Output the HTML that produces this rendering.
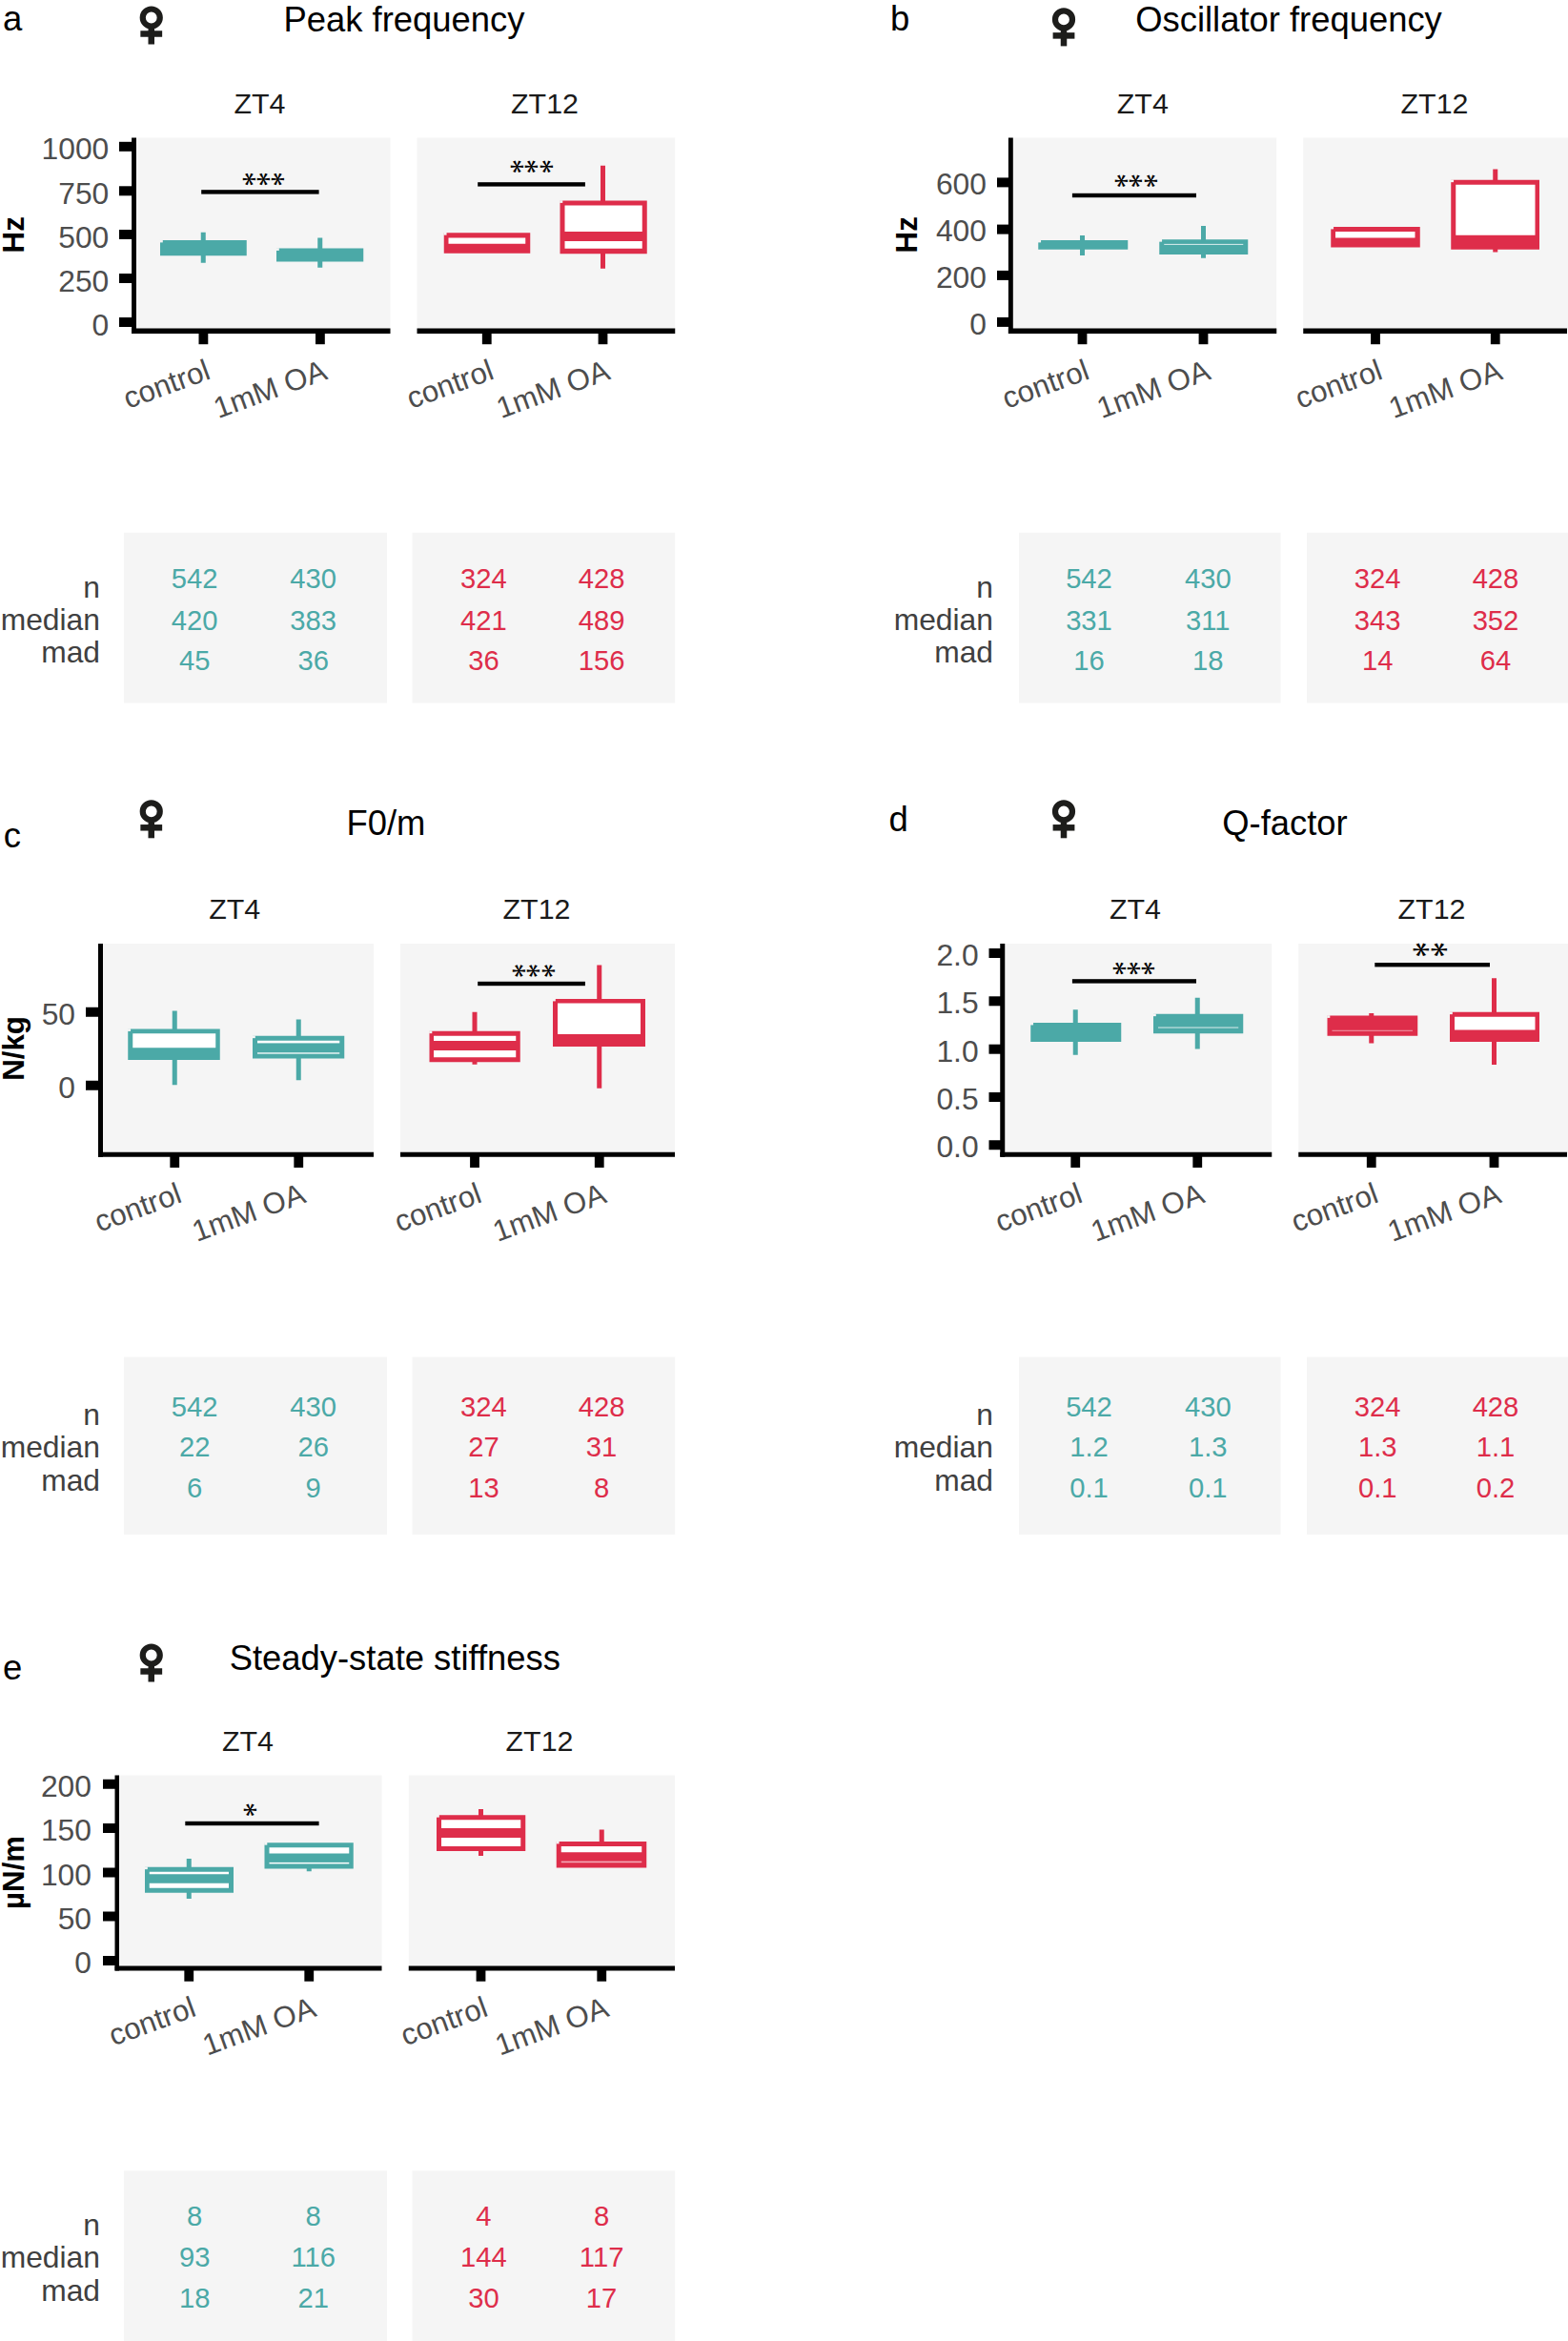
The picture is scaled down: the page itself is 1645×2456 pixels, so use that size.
<!DOCTYPE html>
<html lang="en">
<head>
<meta charset="utf-8">
<title>Figure</title>
<style>
html,body{margin:0;padding:0;background:#fff;}
body{width:1645px;height:2456px;overflow:hidden;}
svg{display:block;font-family:"Liberation Sans",Arial,sans-serif;}
</style>
</head>
<body>
<svg width="1645" height="2456" viewBox="0 0 1645 2456">
<rect width="1645" height="2456" fill="#fff"/>
<text x="3.00" y="31.50" font-size="36.5" fill="#000">a</text>
<circle cx="158.75" cy="18.50" r="9" fill="none" stroke="#1D1D1B" stroke-width="6.2"/>
<rect x="155.50" y="29.50" width="6.50" height="17.00" fill="#1D1D1B"/>
<rect x="147.35" y="32.25" width="22.80" height="6.50" fill="#1D1D1B"/>
<text x="424.00" y="33.30" font-size="36.4" fill="#000" text-anchor="middle">Peak frequency</text>
<rect x="143.00" y="144.50" width="266.50" height="201.00" fill="#F5F5F5"/>
<rect x="437.50" y="144.50" width="270.75" height="201.00" fill="#F5F5F5"/>
<text x="272.50" y="118.70" font-size="30.4" fill="#1A1A1A" text-anchor="middle">ZT4</text>
<text x="571.50" y="118.70" font-size="30.4" fill="#1A1A1A" text-anchor="middle">ZT12</text>
<rect x="138.10" y="144.50" width="4.90" height="205.50" fill="#000"/>
<rect x="138.10" y="344.50" width="271.40" height="5.50" fill="#000"/>
<rect x="437.50" y="344.50" width="270.75" height="5.50" fill="#000"/>
<rect x="125.00" y="148.80" width="14.10" height="10.00" fill="#000"/>
<text x="114.30" y="167.30" font-size="31.8" fill="#4D4D4D" text-anchor="end">1000</text>
<rect x="125.00" y="195.30" width="14.10" height="10.00" fill="#000"/>
<text x="114.30" y="213.80" font-size="31.8" fill="#4D4D4D" text-anchor="end">750</text>
<rect x="125.00" y="241.00" width="14.10" height="10.00" fill="#000"/>
<text x="114.30" y="259.50" font-size="31.8" fill="#4D4D4D" text-anchor="end">500</text>
<rect x="125.00" y="287.00" width="14.10" height="10.00" fill="#000"/>
<text x="114.30" y="305.50" font-size="31.8" fill="#4D4D4D" text-anchor="end">250</text>
<rect x="125.00" y="333.00" width="14.10" height="10.00" fill="#000"/>
<text x="114.30" y="351.50" font-size="31.8" fill="#4D4D4D" text-anchor="end">0</text>
<text transform="translate(25.00 246.30) rotate(-90)" font-size="31.25" fill="#000" text-anchor="middle" font-weight="bold">Hz</text>
<rect x="208.50" y="349.00" width="9.80" height="12.20" fill="#000"/>
<text transform="translate(222.40 397.00) rotate(-20)" font-size="31.25" fill="#4D4D4D" text-anchor="end">control</text>
<rect x="331.00" y="349.00" width="9.80" height="12.20" fill="#000"/>
<text transform="translate(344.90 397.00) rotate(-20)" font-size="31.25" fill="#4D4D4D" text-anchor="end">1mM OA</text>
<rect x="505.85" y="349.00" width="9.80" height="12.20" fill="#000"/>
<text transform="translate(519.75 397.00) rotate(-20)" font-size="31.25" fill="#4D4D4D" text-anchor="end">control</text>
<rect x="627.60" y="349.00" width="9.80" height="12.20" fill="#000"/>
<text transform="translate(641.50 397.00) rotate(-20)" font-size="31.25" fill="#4D4D4D" text-anchor="end">1mM OA</text>
<rect x="210.75" y="243.75" width="5.00" height="32.00" fill="#4BA9A7"/>
<rect x="168.00" y="252.00" width="90.75" height="16.25" fill="#4BA9A7"/>
<rect x="167.70" y="251.70" width="3.10" height="2.70" fill="#F5F5F5"/>
<rect x="333.25" y="249.50" width="5.00" height="31.25" fill="#4BA9A7"/>
<rect x="290.00" y="260.50" width="91.25" height="14.00" fill="#4BA9A7"/>
<rect x="289.70" y="260.20" width="3.10" height="2.70" fill="#F5F5F5"/>
<rect x="508.50" y="250.00" width="5.00" height="10.00" fill="#DE2D4A"/>
<rect x="465.75" y="244.25" width="90.50" height="21.50" fill="#DE2D4A"/>
<rect x="465.45" y="243.95" width="3.10" height="2.70" fill="#F5F5F5"/>
<rect x="470.50" y="249.50" width="80.75" height="6.25" fill="#FFFFFF"/>
<rect x="630.00" y="173.75" width="5.00" height="108.00" fill="#DE2D4A"/>
<rect x="587.50" y="210.50" width="91.25" height="55.75" fill="#DE2D4A"/>
<rect x="587.20" y="210.20" width="3.10" height="2.70" fill="#F5F5F5"/>
<rect x="592.50" y="215.50" width="81.25" height="27.50" fill="#FFFFFF"/>
<rect x="592.50" y="253.00" width="81.25" height="7.75" fill="#FFFFFF"/>
<rect x="211.20" y="199.20" width="123.40" height="4.40" fill="#000"/>
<g transform="translate(276.00 188.00) scale(0.9 0.775)"><text x="-35.97 -18.86 -1.74" y="-10.02" rotate="90" font-family="Liberation Serif, serif" font-size="40" fill="#000">***</text></g>
<rect x="501.20" y="191.20" width="112.70" height="4.40" fill="#000"/>
<g transform="translate(557.20 174.80) scale(0.9 0.775)"><text x="-35.97 -18.74 -1.86" y="-10.02" rotate="90" font-family="Liberation Serif, serif" font-size="40" fill="#000">***</text></g>
<rect x="130.00" y="558.75" width="276.00" height="178.75" fill="#F5F5F5"/>
<rect x="432.50" y="558.75" width="275.75" height="178.75" fill="#F5F5F5"/>
<text x="105.00" y="626.75" font-size="31.8" fill="#404040" text-anchor="end">n</text>
<text x="105.00" y="661.25" font-size="31.8" fill="#404040" text-anchor="end">median</text>
<text x="105.00" y="695.00" font-size="31.8" fill="#404040" text-anchor="end">mad</text>
<text x="204.20" y="617.00" font-size="29.2" fill="#4BA9A7" text-anchor="middle">542</text>
<text x="204.20" y="660.75" font-size="29.2" fill="#4BA9A7" text-anchor="middle">420</text>
<text x="204.20" y="703.00" font-size="29.2" fill="#4BA9A7" text-anchor="middle">45</text>
<text x="328.70" y="617.00" font-size="29.2" fill="#4BA9A7" text-anchor="middle">430</text>
<text x="328.70" y="660.75" font-size="29.2" fill="#4BA9A7" text-anchor="middle">383</text>
<text x="328.70" y="703.00" font-size="29.2" fill="#4BA9A7" text-anchor="middle">36</text>
<text x="507.40" y="617.00" font-size="29.2" fill="#DE2D4A" text-anchor="middle">324</text>
<text x="507.40" y="660.75" font-size="29.2" fill="#DE2D4A" text-anchor="middle">421</text>
<text x="507.40" y="703.00" font-size="29.2" fill="#DE2D4A" text-anchor="middle">36</text>
<text x="631.10" y="617.00" font-size="29.2" fill="#DE2D4A" text-anchor="middle">428</text>
<text x="631.10" y="660.75" font-size="29.2" fill="#DE2D4A" text-anchor="middle">489</text>
<text x="631.10" y="703.00" font-size="29.2" fill="#DE2D4A" text-anchor="middle">156</text>
<text x="934.00" y="31.50" font-size="36.5" fill="#000">b</text>
<circle cx="1116.00" cy="20.40" r="9" fill="none" stroke="#1D1D1B" stroke-width="6.2"/>
<rect x="1112.75" y="31.40" width="6.50" height="17.00" fill="#1D1D1B"/>
<rect x="1104.60" y="34.15" width="22.80" height="6.50" fill="#1D1D1B"/>
<text x="1352.00" y="33.30" font-size="36.4" fill="#000" text-anchor="middle">Oscillator frequency</text>
<rect x="1063.00" y="144.50" width="276.25" height="201.00" fill="#F5F5F5"/>
<rect x="1367.25" y="144.50" width="277.75" height="201.00" fill="#F5F5F5"/>
<text x="1198.80" y="118.70" font-size="30.4" fill="#1A1A1A" text-anchor="middle">ZT4</text>
<text x="1505.00" y="118.70" font-size="30.4" fill="#1A1A1A" text-anchor="middle">ZT12</text>
<rect x="1057.90" y="144.50" width="4.90" height="205.50" fill="#000"/>
<rect x="1057.90" y="344.50" width="281.35" height="5.50" fill="#000"/>
<rect x="1367.25" y="344.50" width="276.75" height="5.50" fill="#000"/>
<rect x="1046.00" y="186.40" width="12.90" height="10.00" fill="#000"/>
<text x="1035.00" y="204.10" font-size="31.8" fill="#4D4D4D" text-anchor="end">600</text>
<rect x="1046.00" y="235.60" width="12.90" height="10.00" fill="#000"/>
<text x="1035.00" y="253.30" font-size="31.8" fill="#4D4D4D" text-anchor="end">400</text>
<rect x="1046.00" y="283.90" width="12.90" height="10.00" fill="#000"/>
<text x="1035.00" y="301.60" font-size="31.8" fill="#4D4D4D" text-anchor="end">200</text>
<rect x="1046.00" y="332.90" width="12.90" height="10.00" fill="#000"/>
<text x="1035.00" y="350.60" font-size="31.8" fill="#4D4D4D" text-anchor="end">0</text>
<text transform="translate(962.00 246.30) rotate(-90)" font-size="31.25" fill="#000" text-anchor="middle" font-weight="bold">Hz</text>
<rect x="1130.60" y="349.00" width="9.80" height="12.20" fill="#000"/>
<text transform="translate(1144.50 397.00) rotate(-20)" font-size="31.25" fill="#4D4D4D" text-anchor="end">control</text>
<rect x="1257.60" y="349.00" width="9.80" height="12.20" fill="#000"/>
<text transform="translate(1271.50 397.00) rotate(-20)" font-size="31.25" fill="#4D4D4D" text-anchor="end">1mM OA</text>
<rect x="1438.10" y="349.00" width="9.80" height="12.20" fill="#000"/>
<text transform="translate(1452.00 397.00) rotate(-20)" font-size="31.25" fill="#4D4D4D" text-anchor="end">control</text>
<rect x="1563.85" y="349.00" width="9.80" height="12.20" fill="#000"/>
<text transform="translate(1577.75 397.00) rotate(-20)" font-size="31.25" fill="#4D4D4D" text-anchor="end">1mM OA</text>
<rect x="1133.00" y="247.00" width="5.00" height="21.00" fill="#4BA9A7"/>
<rect x="1089.25" y="252.00" width="94.00" height="9.75" fill="#4BA9A7"/>
<rect x="1088.95" y="251.70" width="3.10" height="2.70" fill="#F5F5F5"/>
<rect x="1260.00" y="237.00" width="5.00" height="33.75" fill="#4BA9A7"/>
<rect x="1216.25" y="251.25" width="93.00" height="15.75" fill="#4BA9A7"/>
<rect x="1215.95" y="250.95" width="3.10" height="2.70" fill="#F5F5F5"/>
<rect x="1221.25" y="255.90" width="83.00" height="0.90" fill="#EAF5F5"/>
<rect x="1440.50" y="245.00" width="5.00" height="10.00" fill="#DE2D4A"/>
<rect x="1396.25" y="238.00" width="93.50" height="21.50" fill="#DE2D4A"/>
<rect x="1395.95" y="237.70" width="3.10" height="2.70" fill="#F5F5F5"/>
<rect x="1401.00" y="243.00" width="83.50" height="6.50" fill="#FFFFFF"/>
<rect x="1566.25" y="177.50" width="5.00" height="87.00" fill="#DE2D4A"/>
<rect x="1522.25" y="188.75" width="92.75" height="73.00" fill="#DE2D4A"/>
<rect x="1521.95" y="188.45" width="3.10" height="2.70" fill="#F5F5F5"/>
<rect x="1527.25" y="193.75" width="83.25" height="53.00" fill="#FFFFFF"/>
<rect x="1124.90" y="202.80" width="130.10" height="4.40" fill="#000"/>
<g transform="translate(1191.20 189.80) scale(0.9 0.775)"><text x="-35.97 -18.74 -1.86" y="-10.02" rotate="90" font-family="Liberation Serif, serif" font-size="40" fill="#000">***</text></g>
<rect x="1069.00" y="558.75" width="274.50" height="178.75" fill="#F5F5F5"/>
<rect x="1371.00" y="558.75" width="274.00" height="178.75" fill="#F5F5F5"/>
<text x="1042.00" y="626.75" font-size="31.8" fill="#404040" text-anchor="end">n</text>
<text x="1042.00" y="661.25" font-size="31.8" fill="#404040" text-anchor="end">median</text>
<text x="1042.00" y="695.00" font-size="31.8" fill="#404040" text-anchor="end">mad</text>
<text x="1142.50" y="617.00" font-size="29.2" fill="#4BA9A7" text-anchor="middle">542</text>
<text x="1142.50" y="660.75" font-size="29.2" fill="#4BA9A7" text-anchor="middle">331</text>
<text x="1142.50" y="703.00" font-size="29.2" fill="#4BA9A7" text-anchor="middle">16</text>
<text x="1267.30" y="617.00" font-size="29.2" fill="#4BA9A7" text-anchor="middle">430</text>
<text x="1267.30" y="660.75" font-size="29.2" fill="#4BA9A7" text-anchor="middle">311</text>
<text x="1267.30" y="703.00" font-size="29.2" fill="#4BA9A7" text-anchor="middle">18</text>
<text x="1445.20" y="617.00" font-size="29.2" fill="#DE2D4A" text-anchor="middle">324</text>
<text x="1445.20" y="660.75" font-size="29.2" fill="#DE2D4A" text-anchor="middle">343</text>
<text x="1445.20" y="703.00" font-size="29.2" fill="#DE2D4A" text-anchor="middle">14</text>
<text x="1569.00" y="617.00" font-size="29.2" fill="#DE2D4A" text-anchor="middle">428</text>
<text x="1569.00" y="660.75" font-size="29.2" fill="#DE2D4A" text-anchor="middle">352</text>
<text x="1569.00" y="703.00" font-size="29.2" fill="#DE2D4A" text-anchor="middle">64</text>
<text x="3.70" y="889.00" font-size="36.5" fill="#000">c</text>
<circle cx="158.75" cy="851.30" r="9" fill="none" stroke="#1D1D1B" stroke-width="6.2"/>
<rect x="155.50" y="862.30" width="6.50" height="17.00" fill="#1D1D1B"/>
<rect x="147.35" y="865.05" width="22.80" height="6.50" fill="#1D1D1B"/>
<text x="405.00" y="876.40" font-size="36.4" fill="#000" text-anchor="middle">F0/m</text>
<rect x="108.00" y="990.00" width="284.00" height="219.75" fill="#F5F5F5"/>
<rect x="420.00" y="990.00" width="288.00" height="219.75" fill="#F5F5F5"/>
<text x="246.25" y="964.30" font-size="30.4" fill="#1A1A1A" text-anchor="middle">ZT4</text>
<text x="563.00" y="964.30" font-size="30.4" fill="#1A1A1A" text-anchor="middle">ZT12</text>
<rect x="103.00" y="990.00" width="5.00" height="223.75" fill="#000"/>
<rect x="103.00" y="1208.75" width="289.00" height="5.00" fill="#000"/>
<rect x="420.00" y="1208.75" width="288.00" height="5.00" fill="#000"/>
<rect x="90.00" y="1056.75" width="14.00" height="10.00" fill="#000"/>
<text x="79.00" y="1074.65" font-size="31.8" fill="#4D4D4D" text-anchor="end">50</text>
<rect x="90.00" y="1133.75" width="14.00" height="10.00" fill="#000"/>
<text x="79.00" y="1151.65" font-size="31.8" fill="#4D4D4D" text-anchor="end">0</text>
<text transform="translate(25.00 1100.00) rotate(-90)" font-size="31.25" fill="#000" text-anchor="middle" font-weight="bold">N/kg</text>
<rect x="178.35" y="1212.75" width="9.80" height="12.20" fill="#000"/>
<text transform="translate(192.25 1260.75) rotate(-20)" font-size="31.25" fill="#4D4D4D" text-anchor="end">control</text>
<rect x="308.35" y="1212.75" width="9.80" height="12.20" fill="#000"/>
<text transform="translate(322.25 1260.75) rotate(-20)" font-size="31.25" fill="#4D4D4D" text-anchor="end">1mM OA</text>
<rect x="493.10" y="1212.75" width="9.80" height="12.20" fill="#000"/>
<text transform="translate(507.00 1260.75) rotate(-20)" font-size="31.25" fill="#4D4D4D" text-anchor="end">control</text>
<rect x="623.85" y="1212.75" width="9.80" height="12.20" fill="#000"/>
<text transform="translate(637.75 1260.75) rotate(-20)" font-size="31.25" fill="#4D4D4D" text-anchor="end">1mM OA</text>
<rect x="180.75" y="1060.50" width="5.00" height="77.75" fill="#4BA9A7"/>
<rect x="134.25" y="1079.50" width="96.50" height="32.50" fill="#4BA9A7"/>
<rect x="133.95" y="1079.20" width="3.10" height="2.70" fill="#F5F5F5"/>
<rect x="139.25" y="1084.25" width="87.00" height="15.00" fill="#FFFFFF"/>
<rect x="310.75" y="1069.50" width="5.00" height="63.75" fill="#4BA9A7"/>
<rect x="265.00" y="1086.75" width="96.25" height="23.75" fill="#4BA9A7"/>
<rect x="264.70" y="1086.45" width="3.10" height="2.70" fill="#F5F5F5"/>
<rect x="270.00" y="1091.75" width="86.25" height="2.65" fill="#FFFFFF"/>
<rect x="270.00" y="1104.30" width="86.25" height="1.30" fill="#FFFFFF"/>
<rect x="495.50" y="1061.75" width="5.00" height="55.00" fill="#DE2D4A"/>
<rect x="450.50" y="1081.75" width="95.25" height="32.50" fill="#DE2D4A"/>
<rect x="450.20" y="1081.45" width="3.10" height="2.70" fill="#F5F5F5"/>
<rect x="455.00" y="1086.75" width="86.25" height="5.25" fill="#FFFFFF"/>
<rect x="455.00" y="1102.00" width="86.25" height="7.25" fill="#FFFFFF"/>
<rect x="626.25" y="1012.50" width="5.00" height="129.25" fill="#DE2D4A"/>
<rect x="580.00" y="1048.00" width="97.00" height="50.00" fill="#DE2D4A"/>
<rect x="579.70" y="1047.70" width="3.10" height="2.70" fill="#F5F5F5"/>
<rect x="585.00" y="1052.50" width="87.00" height="32.50" fill="#FFFFFF"/>
<rect x="501.20" y="1029.80" width="112.70" height="4.40" fill="#000"/>
<g transform="translate(559.33 1018.60) scale(0.9 0.775)"><text x="-36.00 -18.78 -1.78" y="-10.02" rotate="90" font-family="Liberation Serif, serif" font-size="40" fill="#000">***</text></g>
<rect x="130.00" y="1423.60" width="276.00" height="186.40" fill="#F5F5F5"/>
<rect x="432.50" y="1423.60" width="275.75" height="186.40" fill="#F5F5F5"/>
<text x="105.00" y="1495.30" font-size="31.8" fill="#404040" text-anchor="end">n</text>
<text x="105.00" y="1529.20" font-size="31.8" fill="#404040" text-anchor="end">median</text>
<text x="105.00" y="1564.10" font-size="31.8" fill="#404040" text-anchor="end">mad</text>
<text x="204.20" y="1485.60" font-size="29.2" fill="#4BA9A7" text-anchor="middle">542</text>
<text x="204.20" y="1528.30" font-size="29.2" fill="#4BA9A7" text-anchor="middle">22</text>
<text x="204.20" y="1571.00" font-size="29.2" fill="#4BA9A7" text-anchor="middle">6</text>
<text x="328.70" y="1485.60" font-size="29.2" fill="#4BA9A7" text-anchor="middle">430</text>
<text x="328.70" y="1528.30" font-size="29.2" fill="#4BA9A7" text-anchor="middle">26</text>
<text x="328.70" y="1571.00" font-size="29.2" fill="#4BA9A7" text-anchor="middle">9</text>
<text x="507.40" y="1485.60" font-size="29.2" fill="#DE2D4A" text-anchor="middle">324</text>
<text x="507.40" y="1528.30" font-size="29.2" fill="#DE2D4A" text-anchor="middle">27</text>
<text x="507.40" y="1571.00" font-size="29.2" fill="#DE2D4A" text-anchor="middle">13</text>
<text x="631.10" y="1485.60" font-size="29.2" fill="#DE2D4A" text-anchor="middle">428</text>
<text x="631.10" y="1528.30" font-size="29.2" fill="#DE2D4A" text-anchor="middle">31</text>
<text x="631.10" y="1571.00" font-size="29.2" fill="#DE2D4A" text-anchor="middle">8</text>
<text x="932.50" y="871.50" font-size="36.5" fill="#000">d</text>
<circle cx="1116.00" cy="851.30" r="9" fill="none" stroke="#1D1D1B" stroke-width="6.2"/>
<rect x="1112.75" y="862.30" width="6.50" height="17.00" fill="#1D1D1B"/>
<rect x="1104.60" y="865.05" width="22.80" height="6.50" fill="#1D1D1B"/>
<text x="1348.00" y="876.40" font-size="36.4" fill="#000" text-anchor="middle">Q-factor</text>
<rect x="1054.25" y="990.00" width="280.00" height="219.75" fill="#F5F5F5"/>
<rect x="1362.25" y="990.00" width="282.75" height="219.75" fill="#F5F5F5"/>
<text x="1191.00" y="964.30" font-size="30.4" fill="#1A1A1A" text-anchor="middle">ZT4</text>
<text x="1502.00" y="964.30" font-size="30.4" fill="#1A1A1A" text-anchor="middle">ZT12</text>
<rect x="1049.25" y="990.00" width="5.00" height="223.75" fill="#000"/>
<rect x="1049.25" y="1208.75" width="285.00" height="5.00" fill="#000"/>
<rect x="1362.25" y="1208.75" width="281.75" height="5.00" fill="#000"/>
<rect x="1037.50" y="995.00" width="12.75" height="10.00" fill="#000"/>
<text x="1026.60" y="1012.90" font-size="31.8" fill="#4D4D4D" text-anchor="end">2.0</text>
<rect x="1037.50" y="1045.30" width="12.75" height="10.00" fill="#000"/>
<text x="1026.60" y="1063.20" font-size="31.8" fill="#4D4D4D" text-anchor="end">1.5</text>
<rect x="1037.50" y="1095.70" width="12.75" height="10.00" fill="#000"/>
<text x="1026.60" y="1113.60" font-size="31.8" fill="#4D4D4D" text-anchor="end">1.0</text>
<rect x="1037.50" y="1146.00" width="12.75" height="10.00" fill="#000"/>
<text x="1026.60" y="1163.90" font-size="31.8" fill="#4D4D4D" text-anchor="end">0.5</text>
<rect x="1037.50" y="1196.25" width="12.75" height="10.00" fill="#000"/>
<text x="1026.60" y="1214.15" font-size="31.8" fill="#4D4D4D" text-anchor="end">0.0</text>
<rect x="1123.35" y="1212.75" width="9.80" height="12.20" fill="#000"/>
<text transform="translate(1137.25 1260.75) rotate(-20)" font-size="31.25" fill="#4D4D4D" text-anchor="end">control</text>
<rect x="1251.35" y="1212.75" width="9.80" height="12.20" fill="#000"/>
<text transform="translate(1265.25 1260.75) rotate(-20)" font-size="31.25" fill="#4D4D4D" text-anchor="end">1mM OA</text>
<rect x="1433.85" y="1212.75" width="9.80" height="12.20" fill="#000"/>
<text transform="translate(1447.75 1260.75) rotate(-20)" font-size="31.25" fill="#4D4D4D" text-anchor="end">control</text>
<rect x="1562.60" y="1212.75" width="9.80" height="12.20" fill="#000"/>
<text transform="translate(1576.50 1260.75) rotate(-20)" font-size="31.25" fill="#4D4D4D" text-anchor="end">1mM OA</text>
<rect x="1125.75" y="1059.25" width="5.00" height="47.50" fill="#4BA9A7"/>
<rect x="1081.25" y="1073.00" width="95.00" height="20.00" fill="#4BA9A7"/>
<rect x="1080.95" y="1072.70" width="3.10" height="2.70" fill="#F5F5F5"/>
<rect x="1253.75" y="1046.75" width="5.00" height="53.75" fill="#4BA9A7"/>
<rect x="1210.00" y="1063.75" width="94.25" height="20.50" fill="#4BA9A7"/>
<rect x="1209.70" y="1063.45" width="3.10" height="2.70" fill="#F5F5F5"/>
<rect x="1215.00" y="1077.60" width="84.25" height="0.90" fill="#EAF5F5"/>
<rect x="1436.25" y="1063.00" width="5.00" height="31.50" fill="#DE2D4A"/>
<rect x="1392.50" y="1065.50" width="94.75" height="21.25" fill="#DE2D4A"/>
<rect x="1392.20" y="1065.20" width="3.10" height="2.70" fill="#F5F5F5"/>
<rect x="1397.50" y="1080.80" width="84.50" height="0.90" fill="#F4A9B6"/>
<rect x="1565.00" y="1026.25" width="5.00" height="90.75" fill="#DE2D4A"/>
<rect x="1521.00" y="1061.75" width="94.00" height="31.25" fill="#DE2D4A"/>
<rect x="1520.70" y="1061.45" width="3.10" height="2.70" fill="#F5F5F5"/>
<rect x="1526.00" y="1066.75" width="84.50" height="13.75" fill="#FFFFFF"/>
<rect x="1124.90" y="1027.20" width="130.10" height="4.40" fill="#000"/>
<g transform="translate(1188.77 1016.10) scale(0.9 0.775)"><text x="-35.71 -18.82 -2.04" y="-10.02" rotate="90" font-family="Liberation Serif, serif" font-size="40" fill="#000">***</text></g>
<rect x="1442.30" y="1010.00" width="120.70" height="4.40" fill="#000"/>
<g transform="translate(1500.40 996.30) scale(1.09 0.83)"><text x="-27.57 -10.14" y="-10.02" rotate="90" font-family="Liberation Serif, serif" font-size="40" fill="#000">**</text></g>
<rect x="1069.00" y="1423.60" width="274.50" height="186.40" fill="#F5F5F5"/>
<rect x="1371.00" y="1423.60" width="274.00" height="186.40" fill="#F5F5F5"/>
<text x="1042.00" y="1495.30" font-size="31.8" fill="#404040" text-anchor="end">n</text>
<text x="1042.00" y="1529.20" font-size="31.8" fill="#404040" text-anchor="end">median</text>
<text x="1042.00" y="1564.10" font-size="31.8" fill="#404040" text-anchor="end">mad</text>
<text x="1142.50" y="1485.60" font-size="29.2" fill="#4BA9A7" text-anchor="middle">542</text>
<text x="1142.50" y="1528.30" font-size="29.2" fill="#4BA9A7" text-anchor="middle">1.2</text>
<text x="1142.50" y="1571.00" font-size="29.2" fill="#4BA9A7" text-anchor="middle">0.1</text>
<text x="1267.30" y="1485.60" font-size="29.2" fill="#4BA9A7" text-anchor="middle">430</text>
<text x="1267.30" y="1528.30" font-size="29.2" fill="#4BA9A7" text-anchor="middle">1.3</text>
<text x="1267.30" y="1571.00" font-size="29.2" fill="#4BA9A7" text-anchor="middle">0.1</text>
<text x="1445.20" y="1485.60" font-size="29.2" fill="#DE2D4A" text-anchor="middle">324</text>
<text x="1445.20" y="1528.30" font-size="29.2" fill="#DE2D4A" text-anchor="middle">1.3</text>
<text x="1445.20" y="1571.00" font-size="29.2" fill="#DE2D4A" text-anchor="middle">0.1</text>
<text x="1569.00" y="1485.60" font-size="29.2" fill="#DE2D4A" text-anchor="middle">428</text>
<text x="1569.00" y="1528.30" font-size="29.2" fill="#DE2D4A" text-anchor="middle">1.1</text>
<text x="1569.00" y="1571.00" font-size="29.2" fill="#DE2D4A" text-anchor="middle">0.2</text>
<text x="3.00" y="1761.75" font-size="36.5" fill="#000">e</text>
<circle cx="158.75" cy="1736.50" r="9" fill="none" stroke="#1D1D1B" stroke-width="6.2"/>
<rect x="155.50" y="1747.50" width="6.50" height="17.00" fill="#1D1D1B"/>
<rect x="147.35" y="1750.25" width="22.80" height="6.50" fill="#1D1D1B"/>
<text x="414.30" y="1752.25" font-size="36.4" fill="#000" text-anchor="middle">Steady-state stiffness</text>
<rect x="125.00" y="1862.50" width="275.50" height="201.00" fill="#F5F5F5"/>
<rect x="428.75" y="1862.50" width="279.25" height="201.00" fill="#F5F5F5"/>
<text x="260.00" y="1836.60" font-size="30.4" fill="#1A1A1A" text-anchor="middle">ZT4</text>
<text x="566.00" y="1836.60" font-size="30.4" fill="#1A1A1A" text-anchor="middle">ZT12</text>
<rect x="120.50" y="1862.50" width="4.50" height="205.00" fill="#000"/>
<rect x="120.50" y="2062.50" width="280.00" height="5.00" fill="#000"/>
<rect x="428.75" y="2062.50" width="279.25" height="5.00" fill="#000"/>
<rect x="108.00" y="1866.75" width="13.50" height="10.00" fill="#000"/>
<text x="96.00" y="1885.05" font-size="31.8" fill="#4D4D4D" text-anchor="end">200</text>
<rect x="108.00" y="1913.00" width="13.50" height="10.00" fill="#000"/>
<text x="96.00" y="1931.30" font-size="31.8" fill="#4D4D4D" text-anchor="end">150</text>
<rect x="108.00" y="1959.50" width="13.50" height="10.00" fill="#000"/>
<text x="96.00" y="1977.80" font-size="31.8" fill="#4D4D4D" text-anchor="end">100</text>
<rect x="108.00" y="2005.50" width="13.50" height="10.00" fill="#000"/>
<text x="96.00" y="2023.80" font-size="31.8" fill="#4D4D4D" text-anchor="end">50</text>
<rect x="108.00" y="2052.00" width="13.50" height="10.00" fill="#000"/>
<text x="96.00" y="2070.30" font-size="31.8" fill="#4D4D4D" text-anchor="end">0</text>
<text transform="translate(25.00 1964.40) rotate(-90)" font-size="31.25" fill="#000" text-anchor="middle" font-weight="bold">µN/m</text>
<rect x="193.35" y="2066.50" width="9.80" height="12.20" fill="#000"/>
<text transform="translate(207.25 2114.50) rotate(-20)" font-size="31.25" fill="#4D4D4D" text-anchor="end">control</text>
<rect x="319.35" y="2066.50" width="9.80" height="12.20" fill="#000"/>
<text transform="translate(333.25 2114.50) rotate(-20)" font-size="31.25" fill="#4D4D4D" text-anchor="end">1mM OA</text>
<rect x="499.60" y="2066.50" width="9.80" height="12.20" fill="#000"/>
<text transform="translate(513.50 2114.50) rotate(-20)" font-size="31.25" fill="#4D4D4D" text-anchor="end">control</text>
<rect x="626.35" y="2066.50" width="9.80" height="12.20" fill="#000"/>
<text transform="translate(640.25 2114.50) rotate(-20)" font-size="31.25" fill="#4D4D4D" text-anchor="end">1mM OA</text>
<rect x="195.75" y="1950.00" width="5.00" height="42.00" fill="#4BA9A7"/>
<rect x="152.00" y="1958.75" width="93.00" height="27.00" fill="#4BA9A7"/>
<rect x="151.70" y="1958.45" width="3.10" height="2.70" fill="#F5F5F5"/>
<rect x="156.75" y="1963.75" width="83.25" height="2.50" fill="#FFFFFF"/>
<rect x="156.75" y="1975.75" width="83.25" height="5.00" fill="#FFFFFF"/>
<rect x="321.75" y="1940.00" width="5.00" height="23.25" fill="#4BA9A7"/>
<rect x="277.50" y="1933.25" width="93.25" height="27.25" fill="#4BA9A7"/>
<rect x="277.20" y="1932.95" width="3.10" height="2.70" fill="#F5F5F5"/>
<rect x="282.50" y="1938.25" width="83.75" height="6.25" fill="#FFFFFF"/>
<rect x="282.50" y="1953.90" width="83.75" height="1.50" fill="#FFFFFF"/>
<rect x="502.00" y="1898.00" width="5.00" height="49.00" fill="#DE2D4A"/>
<rect x="458.00" y="1904.25" width="93.25" height="37.75" fill="#DE2D4A"/>
<rect x="457.70" y="1903.95" width="3.10" height="2.70" fill="#F5F5F5"/>
<rect x="463.00" y="1909.25" width="83.25" height="8.75" fill="#FFFFFF"/>
<rect x="463.00" y="1928.00" width="83.25" height="9.00" fill="#FFFFFF"/>
<rect x="628.75" y="1919.50" width="5.00" height="30.50" fill="#DE2D4A"/>
<rect x="583.75" y="1932.00" width="94.50" height="27.50" fill="#DE2D4A"/>
<rect x="583.45" y="1931.70" width="3.10" height="2.70" fill="#F5F5F5"/>
<rect x="588.75" y="1937.00" width="84.50" height="6.25" fill="#FFFFFF"/>
<rect x="588.75" y="1952.60" width="84.50" height="1.60" fill="#F4A9B6"/>
<rect x="194.30" y="1910.80" width="140.30" height="4.40" fill="#000"/>
<g transform="translate(261.60 1898.70) scale(0.9 0.775)"><text x="-18.86" y="-10.02" rotate="90" font-family="Liberation Serif, serif" font-size="40" fill="#000">*</text></g>
<rect x="130.00" y="2277.30" width="276.00" height="178.70" fill="#F5F5F5"/>
<rect x="432.50" y="2277.30" width="275.75" height="178.70" fill="#F5F5F5"/>
<text x="105.00" y="2345.00" font-size="31.8" fill="#404040" text-anchor="end">n</text>
<text x="105.00" y="2379.00" font-size="31.8" fill="#404040" text-anchor="end">median</text>
<text x="105.00" y="2414.00" font-size="31.8" fill="#404040" text-anchor="end">mad</text>
<text x="204.20" y="2335.00" font-size="29.2" fill="#4BA9A7" text-anchor="middle">8</text>
<text x="204.20" y="2378.00" font-size="29.2" fill="#4BA9A7" text-anchor="middle">93</text>
<text x="204.20" y="2421.00" font-size="29.2" fill="#4BA9A7" text-anchor="middle">18</text>
<text x="328.70" y="2335.00" font-size="29.2" fill="#4BA9A7" text-anchor="middle">8</text>
<text x="328.70" y="2378.00" font-size="29.2" fill="#4BA9A7" text-anchor="middle">116</text>
<text x="328.70" y="2421.00" font-size="29.2" fill="#4BA9A7" text-anchor="middle">21</text>
<text x="507.40" y="2335.00" font-size="29.2" fill="#DE2D4A" text-anchor="middle">4</text>
<text x="507.40" y="2378.00" font-size="29.2" fill="#DE2D4A" text-anchor="middle">144</text>
<text x="507.40" y="2421.00" font-size="29.2" fill="#DE2D4A" text-anchor="middle">30</text>
<text x="631.10" y="2335.00" font-size="29.2" fill="#DE2D4A" text-anchor="middle">8</text>
<text x="631.10" y="2378.00" font-size="29.2" fill="#DE2D4A" text-anchor="middle">117</text>
<text x="631.10" y="2421.00" font-size="29.2" fill="#DE2D4A" text-anchor="middle">17</text>
</svg>
</body>
</html>
